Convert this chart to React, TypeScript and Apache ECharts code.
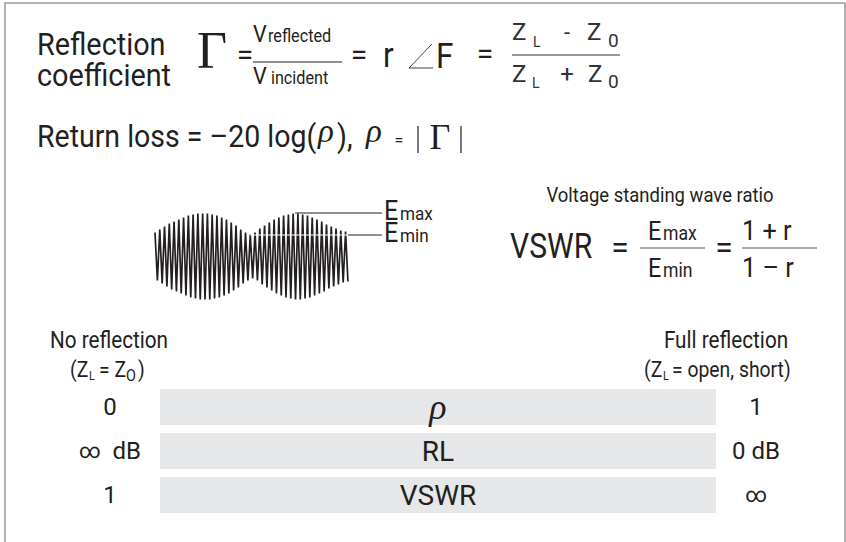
import React, { useEffect, useRef } from "react";
import * as echarts from "echarts";

// ---------- data ----------
const barCategories = ["ρ", "RL", "VSWR"];
const barValues = [1, 1, 1];
const leftTickLabels = ["0", "∞  dB", "1"];
const rightTickLabels = ["1", "0 dB", "∞"];

// envelope amplitude of each carrier cycle of the standing wave
const waveAmplitude = [
  24, 27, 30, 33, 35, 37, 39, 41, 42, 43, 43, 43, 42, 41, 39, 37, 34, 31, 27, 24, 22,
  24, 28, 31, 34, 37, 39, 41, 42, 43, 43, 42, 41, 39, 37, 35, 32, 30, 28, 26, 25,
];
const eMaxLevel = 43.5;
const eMinLevel = 21.5;
const eMaxSpan = [58.8, 95.3];
const eMinSpanInside = [39.9, 81];
const eMinSpanOutside = [81, 95.3];

// ---------- style ----------
const INK = "#231f20";
const SANS = "Roboto, 'Liberation Sans', sans-serif";
const SERIF = "'Liberation Serif', 'DejaVu Serif', serif";

type TOpts = { serif?: boolean; italic?: boolean; align?: string; sx?: number; fill?: string };
function txt(text: string, x: number, base: number, size: number, o: TOpts = {}) {
  const fam = o.serif ? SERIF : SANS;
  const it = o.italic ? "italic " : "";
  const align = o.align || "left";
  return {
    type: "text",
    x,
    y: base - 0.34 * size,
    scaleX: o.sx ?? 0.88,
    silent: true,
    style: {
      text,
      x: 0,
      y: 0,
      font: `${it}${size}px ${fam}`,
      fill: o.fill || INK,
      align,
      verticalAlign: "middle",
      textAlign: align,
      textVerticalAlign: "middle",
    },
  };
}
function hline(x1: number, x2: number, y: number, color = INK, w = 1) {
  return { type: "line", silent: true, shape: { x1, y1: y, x2, y2: y }, style: { stroke: color, lineWidth: w } };
}
function vline(x: number, y1: number, y2: number, color = INK, w = 1.2) {
  return { type: "line", silent: true, shape: { x1: x, y1, x2: x, y2 }, style: { stroke: color, lineWidth: w } };
}

export default function App() {
  const ref = useRef<HTMLDivElement>(null);
  useEffect(() => {
    document.body.style.margin = "0";
    if (!ref.current) return;
    const chart = echarts.init(ref.current, undefined, { renderer: "svg" });

    const waveData: number[][] = [];
    waveAmplitude.forEach((a, k) => {
      waveData.push([2 * k, a]);
      waveData.push([2 * k + 1, -a]);
    });

    const graphics: any[] = [
      {
        type: "rect",
        silent: true,
        shape: { x: 5, y: 3, width: 840, height: 620 },
        style: { fill: "none", stroke: "#9a9a9a", lineWidth: 1.5 },
      },
      // Reflection coefficient
      txt("Reflection", 37, 55, 32, { sx: 0.9 }),
      txt("coefficient", 37, 86, 32, { sx: 0.9 }),
      txt("Γ", 197, 68, 52, { serif: true, sx: 1 }),
      txt("=", 245, 65, 30, { align: "center", sx: 1 }),
      txt("V", 253, 42, 24, { sx: 0.9 }),
      txt("reflected", 268, 42, 18, { sx: 0.9 }),
      hline(253, 342, 62),
      txt("V", 253, 84, 24, { sx: 0.9 }),
      txt("incident", 271, 84, 18, { sx: 0.9 }),
      txt("=", 359, 65, 30, { align: "center", sx: 1 }),
      txt("r", 383, 67, 35, { sx: 0.9 }),
      {
        type: "polyline",
        silent: true,
        shape: { points: [[432, 44], [409, 68], [433, 68]] },
        style: { stroke: "#444", lineWidth: 1, fill: "none" },
      },
      txt("F", 436, 68, 35, { sx: 0.9 }),
      txt("=", 485, 64, 30, { align: "center", sx: 1 }),
      txt("Z", 512, 40, 24, { sx: 1, fill: "#333" }),
      txt("L", 533, 47, 14, { sx: 1, fill: "#333" }),
      txt("-", 567, 40, 22, { sx: 1, align: "center", fill: "#333" }),
      txt("Z", 587, 40, 24, { sx: 1, fill: "#333" }),
      txt("0", 608, 47, 19, { sx: 1, fill: "#333" }),
      hline(512, 620, 55, "#333"),
      txt("Z", 512, 82, 24, { sx: 1, fill: "#333" }),
      txt("L", 532, 88, 14, { sx: 1, fill: "#333" }),
      txt("+", 567, 82, 24, { sx: 1, align: "center", fill: "#333" }),
      txt("Z", 588, 82, 24, { sx: 1, fill: "#333" }),
      txt("0", 608, 88, 19, { sx: 1, fill: "#333" }),
      // Return loss
      txt("Return loss = –20 log(", 37, 147, 31, { sx: 0.92 }),
      txt("ρ", 326, 142, 33, { serif: true, italic: true, align: "center", sx: 1 }),
      txt("),", 337, 147, 31, { sx: 0.92 }),
      txt("ρ", 374, 142, 33, { serif: true, italic: true, align: "center", sx: 1 }),
      txt("=", 399, 146, 16, { align: "center", sx: 1 }),
      vline(418, 126, 153),
      txt("Γ", 440, 149, 36, { serif: true, align: "center", sx: 1 }),
      vline(461, 126, 153),
      // Emax / Emin labels
      txt("E", 384, 220, 28, { sx: 0.9 }),
      txt("max", 400, 220, 19, { sx: 0.9 }),
      txt("E", 384, 242, 28, { sx: 0.9 }),
      txt("min", 400, 242, 19, { sx: 0.9 }),
      // VSWR
      txt("Voltage standing wave ratio", 660, 202, 21, { align: "center", sx: 0.88 }),
      txt("VSWR", 510, 258, 35, { sx: 0.86 }),
      txt("=", 620, 258, 32, { align: "center", sx: 1 }),
      txt("E", 648, 240, 26, { sx: 0.9 }),
      txt("max", 663, 240, 20, { sx: 0.88 }),
      hline(640, 705, 248, "#555"),
      txt("E", 648, 277, 26, { sx: 0.9 }),
      txt("min", 663, 277, 20, { sx: 0.88 }),
      txt("=", 724, 258, 32, { align: "center", sx: 1 }),
      txt("1 + r", 742, 240, 28, { sx: 0.9 }),
      hline(742, 817, 248, "#555"),
      txt("1 – r", 742, 277, 28, { sx: 0.9 }),
      // scale end captions
      txt("No reflection", 109, 348, 23, { align: "center", sx: 0.9 }),
      txt("(Z", 70, 377, 22, { sx: 0.88 }),
      txt("L", 89, 380, 12, { sx: 0.9 }),
      txt("= Z", 99, 377, 22, { sx: 0.88 }),
      txt("O", 126, 381, 16, { sx: 0.9 }),
      txt(")", 138, 377, 22, { sx: 0.88 }),
      txt("Full reflection", 726, 348, 23, { align: "center", sx: 0.9 }),
      txt("(Z", 644, 377, 22, { sx: 0.88 }),
      txt("L", 663, 380, 12, { sx: 0.9 }),
      txt("= open, short)", 672, 377, 22, { sx: 0.88 }),
    ];

    const infRich = { inf: { fontSize: 21, fontFamily: SANS, color: INK } };
    const option: any = {
      animation: false,
      backgroundColor: "#ffffff",
      grid: [
        { left: 160, right: 130, top: 385, height: 132, containLabel: false },
        { left: 155, width: 227, top: 206.5, height: 100, containLabel: false },
      ],
      xAxis: [
        { type: "value", gridIndex: 0, min: 0, max: 1, show: false },
        { type: "value", gridIndex: 1, min: 0, max: 95.3, show: false },
      ],
      yAxis: [
        {
          type: "category",
          gridIndex: 0,
          data: leftTickLabels,
          inverse: true,
          position: "left",
          axisLine: { show: false },
          axisTick: { show: false },
          splitLine: { show: false },
          axisLabel: {
            color: INK,
            fontFamily: SANS,
            fontSize: 24,
            align: "center",
            margin: 50,
            formatter: (v: string) => v.replace("∞", "{inf|∞}"),
            rich: infRich,
          },
        },
        {
          type: "category",
          gridIndex: 0,
          data: rightTickLabels,
          inverse: true,
          position: "right",
          axisLine: { show: false },
          axisTick: { show: false },
          splitLine: { show: false },
          axisLabel: {
            color: INK,
            fontFamily: SANS,
            fontSize: 24,
            align: "center",
            margin: 40,
            formatter: (v: string) => v.replace("∞", "{inf|∞}"),
            rich: infRich,
          },
        },
        { type: "value", gridIndex: 1, min: -50, max: 50, show: false },
      ],
      series: [
        {
          type: "bar",
          xAxisIndex: 0,
          yAxisIndex: 0,
          data: barValues.map((v, i) => ({ value: v, name: barCategories[i] })),
          barWidth: 36,
          silent: true,
          itemStyle: { color: "#e6e7e8" },
          label: {
            show: true,
            position: "inside",
            formatter: (p: any) =>
              p.dataIndex === 0 ? `{rho|${barCategories[0]}}` : `{t|${barCategories[p.dataIndex]}}`,
            rich: {
              rho: { fontFamily: SERIF, fontStyle: "italic", fontSize: 36, color: INK },
              t: { fontFamily: SANS, fontSize: 28, color: INK },
            },
          },
        },
        {
          type: "line",
          xAxisIndex: 1,
          yAxisIndex: 2,
          data: waveData,
          showSymbol: false,
          silent: true,
          lineStyle: { color: INK, width: 1.7 },
        },
        {
          type: "line",
          xAxisIndex: 1,
          yAxisIndex: 2,
          data: [[eMaxSpan[0], eMaxLevel], [eMaxSpan[1], eMaxLevel]],
          showSymbol: false,
          silent: true,
          lineStyle: { color: INK, width: 1 },
        },
        {
          type: "line",
          xAxisIndex: 1,
          yAxisIndex: 2,
          data: [[eMinSpanInside[0], eMinLevel], [eMinSpanInside[1], eMinLevel]],
          showSymbol: false,
          silent: true,
          lineStyle: { color: "#ffffff", width: 1.2 },
        },
        {
          type: "line",
          xAxisIndex: 1,
          yAxisIndex: 2,
          data: [[eMinSpanOutside[0], eMinLevel], [eMinSpanOutside[1], eMinLevel]],
          showSymbol: false,
          silent: true,
          lineStyle: { color: INK, width: 1 },
        },
      ],
      graphic: { elements: graphics },
    };
    chart.setOption(option);
    return () => chart.dispose();
  }, []);
  return <div ref={ref} style={{ width: 846, height: 542 }} />;
}
